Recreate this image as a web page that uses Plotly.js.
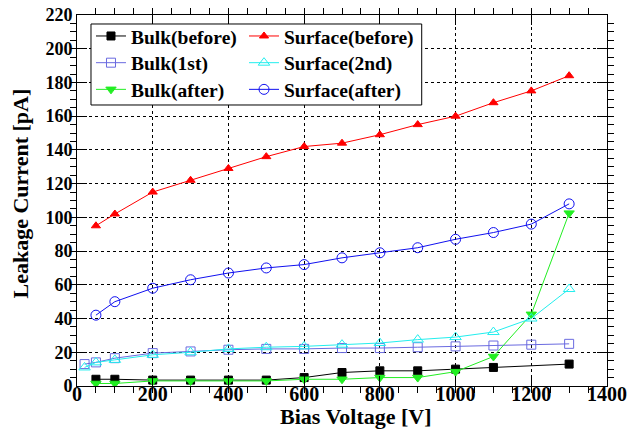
<!DOCTYPE html>
<html><head><meta charset="utf-8">
<script src="https://cdn.plot.ly/plotly-3.0.1.min.js"></script>
<style>body{margin:0;background:#fff}#c{width:627px;height:436px}</style>
</head><body><div id="c"></div>
<script>
const xBulkBefore = [50,100,200,300,400,500,600,700,800,900,1000,1100,1300];
const yBulkBefore = [4,4,3.5,3.5,3.5,3.5,5,8,9,9,10,11,13];
const xBulk1st = [20,50,100,200,300,400,500,600,700,800,900,1000,1100,1200,1300];
const yBulk1st = [13,14,16.5,19.5,20.5,21.5,22,22,22.5,22.5,23,23.5,24,24.5,25];
const xBulkAfter = [50,100,200,300,400,500,600,700,800,900,1000,1100,1200,1300];
const yBulkAfter = [1.5,1.5,3,3,3,3,4,4,5,5,8.5,17.5,42.5,102.5];
const xSurfBefore = [50,100,200,300,400,500,600,700,800,900,1000,1100,1200,1300];
const ySurfBefore = [95,102,115,122,129,136,142,144,149,155,160,168,175,184];
const xSurf2nd = [20,50,100,200,300,400,500,600,700,800,900,1000,1100,1200,1300];
const ySurf2nd = [11,14,15.5,18.5,20,22,23,23.5,24.5,25.5,27.5,29,32,40,57.5];
const xSurfAfter = [50,100,200,300,400,500,600,700,800,900,1000,1100,1200,1300];
const ySurfAfter = [42,50,58,63,67,70,72,76,79,82,87,91,96,108];

const F = "Liberation Serif, Times New Roman, serif";
const legFont = {family:F, size:19.5, color:'#000', weight:'bold'};
function tr(name, x, y, color, symbol, size, legend){
  return {type:'scatter', mode:'lines+markers', name, x, y, legend,
    line:{color, width:1}, marker:{color, symbol, size, line:{color, width:1}}};
}
const data = [
  tr('Bulk(before)', xBulkBefore, yBulkBefore, '#000000', 'square', 8, 'legend'),
  tr('Bulk(1st)', xBulk1st, yBulk1st, '#6a6ae0', 'square-open', 9, 'legend2'),
  tr('Bulk(after)', xBulkAfter, yBulkAfter, '#22ee22', 'triangle-down', 9, 'legend3'),
  tr('Surface(before)', xSurfBefore, ySurfBefore, '#ff0000', 'triangle-up', 8, 'legend4'),
  tr('Surface(2nd)', xSurf2nd, ySurf2nd, '#22eeee', 'triangle-up-open', 10, 'legend5'),
  tr('Surface(after)', xSurfAfter, ySurfAfter, '#1010f0', 'circle-open', 10, 'legend6'),
];
const axBase = {
  showline:true, linecolor:'#000', linewidth:1, mirror:'ticks',
  ticks:'inside', ticklen:10, tickcolor:'#000', tickwidth:1,
  showgrid:true, gridcolor:'#000', griddash:'dot', gridwidth:1,
  zeroline:false, ticklabeloverflow:'allow',
};
function leg(x, y){
  return {x, y, xanchor:'left', yanchor:'middle', bgcolor:'rgba(0,0,0,0)', font:legFont, itemwidth:30};
}
const rows = [0.9441, 0.8740, 0.8040];
const layout = {
  width:627, height:436, paper_bgcolor:'#fff', plot_bgcolor:'#fff',
  margin:{l:77, r:20, t:15, b:40},
  xaxis:Object.assign({}, axBase, {range:[0,1400], dtick:200, tick0:0, showticklabels:false,
    minor:{dtick:50, ticklen:6, tickcolor:'#000', showgrid:false}}),
  xaxis2:{overlaying:'x', anchor:'free', position:0.042, range:[0,1400], dtick:200, tick0:0,
    showline:false, ticks:'', showgrid:false, zeroline:false, ticklabeloverflow:'allow',
    tickfont:{family:F, size:20, color:'#000', weight:'bold'}},
  yaxis:Object.assign({}, axBase, {range:[0,220], dtick:20, tick0:0, domain:[0.02625,1],
    tickfont:{family:F, size:18, color:'#000', weight:'bold'},
    minor:{dtick:5, ticklen:6, tickcolor:'#000', showgrid:false}}),
  showlegend:true,
  legend:leg(0.0264, rows[0]), legend2:leg(0.0264, rows[1]), legend3:leg(0.0264, rows[2]),
  legend4:leg(0.3151, rows[0]), legend5:leg(0.3151, rows[1]), legend6:leg(0.3151, rows[2]),
  shapes:[{type:'rect', xref:'paper', yref:'paper', x0:0.0264, x1:0.6504, y0:0.7638, y1:0.9764,
    line:{color:'#000', width:1}, fillcolor:'#fff', layer:'above'}],
  annotations:[
    {text:'Bias Voltage [V]', xref:'paper', yref:'paper', x:0.527, y:-0.0525, xanchor:'center', yanchor:'middle',
     showarrow:false, font:{family:F, size:22, color:'#000', weight:'bold'}},
    {text:'Leakage Current [pA]', xref:'paper', yref:'paper', x:-0.1057, y:0.5315, xanchor:'center', yanchor:'middle',
     textangle:-90, showarrow:false, font:{family:F, size:22, color:'#000', weight:'bold'}},
  ],
};
// an invisible trace on xaxis2 so the label axis is drawn
data.push({type:'scatter', x:[0], y:[0], xaxis:'x2', mode:'markers', marker:{opacity:0}, showlegend:false, hoverinfo:'skip'});
Plotly.newPlot('c', data, layout, {displayModeBar:false, staticPlot:true});
</script></body></html>
